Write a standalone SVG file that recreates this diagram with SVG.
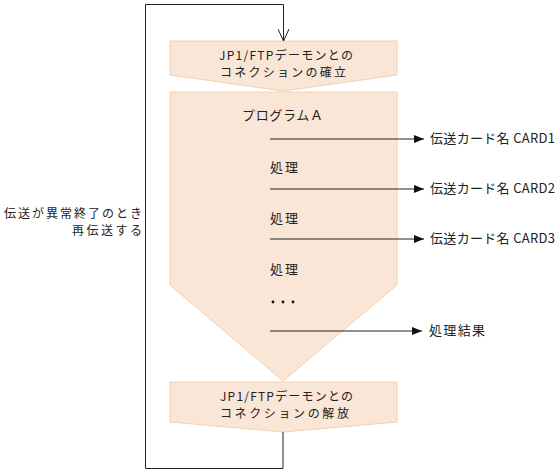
<svg xmlns="http://www.w3.org/2000/svg" width="560" height="473" viewBox="0 0 560 473">
<style>
.box{fill:#F9E6D6;stroke:#F2D0B0;stroke-width:1}
text{font-family:"Noto Sans CJK JP","Noto Sans",sans-serif;font-size:13px;fill:#222}
text.two{font-size:12px}
.ln{stroke:#222;stroke-width:1;fill:none}
</style>
<defs>
<marker id="fa" viewBox="0 0 10 8" refX="10" refY="4" markerWidth="10" markerHeight="8" markerUnits="userSpaceOnUse" orient="auto">
<path d="M0,0 L10,4 L0,8 Z" fill="#111"/>
</marker>
<marker id="oa" viewBox="0 0 12 14" refX="6" refY="13" markerWidth="12" markerHeight="14" markerUnits="userSpaceOnUse" orient="0">
<path d="M0.5,1 L6,13 L11.5,1" fill="none" stroke="#222" stroke-width="1"/>
</marker>
</defs>
<g id="connect">
<polygon class="box" points="170,41 397,41 397,75 283,91 170,75"/>
<text class="two" x="219" y="60" textLength="134" lengthAdjust="spacing">JP1/FTPデーモンとの</text>
<text class="two" x="220" y="77" textLength="126" lengthAdjust="spacing">コネクションの確立</text>
</g>
<g id="programA">
<polygon class="box" points="170,92 397,92 397,285 283,381 170,285"/>
<text x="242" y="120" textLength="81" lengthAdjust="spacing">プログラムＡ</text>
<text x="270" y="172" textLength="28" lengthAdjust="spacing">処理</text>
<text x="270" y="223" textLength="28" lengthAdjust="spacing">処理</text>
<text x="270" y="274" textLength="28" lengthAdjust="spacing">処理</text>
<circle cx="273" cy="302" r="1.4" fill="#111"/>
<circle cx="283" cy="302" r="1.4" fill="#111"/>
<circle cx="293" cy="302" r="1.4" fill="#111"/>
</g>
<g id="release">
<polygon class="box" points="170,382 397,382 397,422 283,432 170,422"/>
<text class="two" x="220" y="401" textLength="133" lengthAdjust="spacing">JP1/FTPデーモンとの</text>
<text class="two" x="220" y="418" textLength="129" lengthAdjust="spacing">コネクションの解放</text>
</g>
<g id="outputs">
<text x="430" y="143" textLength="125" lengthAdjust="spacing">伝送カード名 CARD1</text>
<text x="430" y="193" textLength="125" lengthAdjust="spacing">伝送カード名 CARD2</text>
<text x="430" y="243" textLength="125" lengthAdjust="spacing">伝送カード名 CARD3</text>
<text x="429" y="335" textLength="56" lengthAdjust="spacing">処理結果</text>
</g>
<g id="retry-label">
<text class="two" x="142" y="218" text-anchor="end" textLength="138" lengthAdjust="spacing">伝送が異常終了のとき</text>
<text class="two" x="142" y="235" text-anchor="end" textLength="70" lengthAdjust="spacing">再伝送する</text>
</g>
<g id="connectors">
<line class="ln" x1="270" y1="139" x2="424" y2="139" marker-end="url(#fa)"/>
<line class="ln" x1="270" y1="189" x2="424" y2="189" marker-end="url(#fa)"/>
<line class="ln" x1="270" y1="239" x2="424" y2="239" marker-end="url(#fa)"/>
<line class="ln" x1="270" y1="331" x2="422" y2="331" marker-end="url(#fa)"/>
<polyline class="ln" points="283,432 283,468.5 145.5,468.5 145.5,4.5 283.5,4.5 283.5,41" marker-end="url(#oa)"/>
</g>
</svg>
